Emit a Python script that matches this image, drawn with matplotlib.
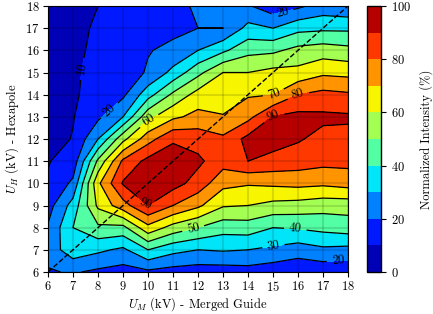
import numpy as np
import matplotlib
matplotlib.use("Agg")
import matplotlib.pyplot as plt

plt.rcParams['font.family'] = ['cmr10', 'DejaVu Serif']
plt.rcParams['mathtext.fontset'] = 'cm'
plt.rcParams['axes.formatter.use_mathtext'] = True
plt.rcParams['font.size'] = 9

u_m = [6, 7, 8, 9, 10, 11, 12, 13, 14, 15, 16, 17, 18]
u_h = [6, 7, 8, 9, 10, 11, 12, 13, 14, 15, 16, 17, 18]

# columns: intensity vs U_H (6..18) for each U_M
col_6 = [19, 24, 21, 16, 11, 9.5, 6, 5, 4, 4, 3, 3, 3]
col_7 = [21, 36, 40, 34, 22, 14, 10.5, 9.5, 9, 9, 8.5, 8, 7]
col_8 = [18, 32, 48, 62, 68, 52, 30, 18, 13, 12, 11.5, 11, 10]
col_9 = [16, 28, 47, 76, 91, 82, 57, 30, 18, 15, 14, 13, 13]
col_10 = [18, 40, 67, 90, 96, 93, 76, 57, 36, 21, 19.5, 17, 16]
col_11 = [16, 33, 56, 80, 94, 96, 88.5, 68, 52, 33, 22, 18, 18]
col_12 = [15, 30, 50, 72, 86, 92, 86, 73, 64, 47, 30, 20, 21]
col_13 = [15, 31, 44, 61, 73, 84, 82, 70.5, 66, 60, 38, 20, 23]
col_14 = [16, 30, 45, 60, 71, 90, 93, 77, 69, 60, 47, 33, 21]
col_15 = [14, 28, 40, 57, 72, 87, 94, 90.5, 70, 63, 48, 30, 14]
col_16 = [12, 25, 41, 56, 73, 85, 91, 93, 80, 63, 53, 37, 18]
col_17 = [13, 28, 43, 54, 72, 83, 87, 92, 83, 68, 55, 38, 24]
col_18 = [12, 27, 45, 54, 74, 83, 87, 91.5, 81.5, 67, 53, 38, 22]

levels = [0, 10, 20, 30, 40, 50, 60, 70, 80, 90, 100]
cbar_ticks = [0, 20, 40, 60, 80, 100]
label_pos = [(7.2, 15.2), (8.6, 13.1), (10.0, 12.9), (9.9, 9.1), (11.8, 8.0),
             (15.0, 14.1), (16.0, 14.0), (15.0, 13.1), (15.9, 8.1), (15.0, 7.3),
             (17.6, 6.5), (15.4, 17.6)]

Z = np.array([col_6, col_7, col_8, col_9, col_10, col_11, col_12, col_13,
              col_14, col_15, col_16, col_17, col_18]).T
X, Y = np.meshgrid(u_m, u_h)

fig = plt.figure(figsize=(4.33, 3.14), dpi=100)
ax = fig.add_axes([48/433, 42/314, 300/433, 266/314])
cax = fig.add_axes([367/433, 42/314, 14/433, 266/314])

cf = ax.contourf(X, Y, Z, levels=levels, cmap='jet')
cs = ax.contour(X, Y, Z, levels=levels, colors='k', linewidths=0.9)
ax.clabel(cs, fmt='%d', manual=label_pos, fontsize=9, inline=True)
ax.plot([6, 18], [6, 18], 'k--', lw=1.0)

ax.set_xlim(6, 18)
ax.set_ylim(6, 18)
ax.set_xticks(u_m)
ax.set_yticks(u_h)
ax.tick_params(axis='both', pad=2.5)
ax.grid(True, color='k', alpha=0.12, lw=1.5)
ax.set_axisbelow(False)
ax.set_xlabel(r'$U_M$ (kV) - Merged Guide', labelpad=1)
ax.set_ylabel(r'$U_H$ (kV) - Hexapole', labelpad=3)

cb = fig.colorbar(cf, cax=cax, ticks=cbar_ticks)
cb.set_label('Normalized Intensity (%)', labelpad=6)
cb.outline.set_linewidth(1.0)

fig.savefig('out.png', dpi=100)
